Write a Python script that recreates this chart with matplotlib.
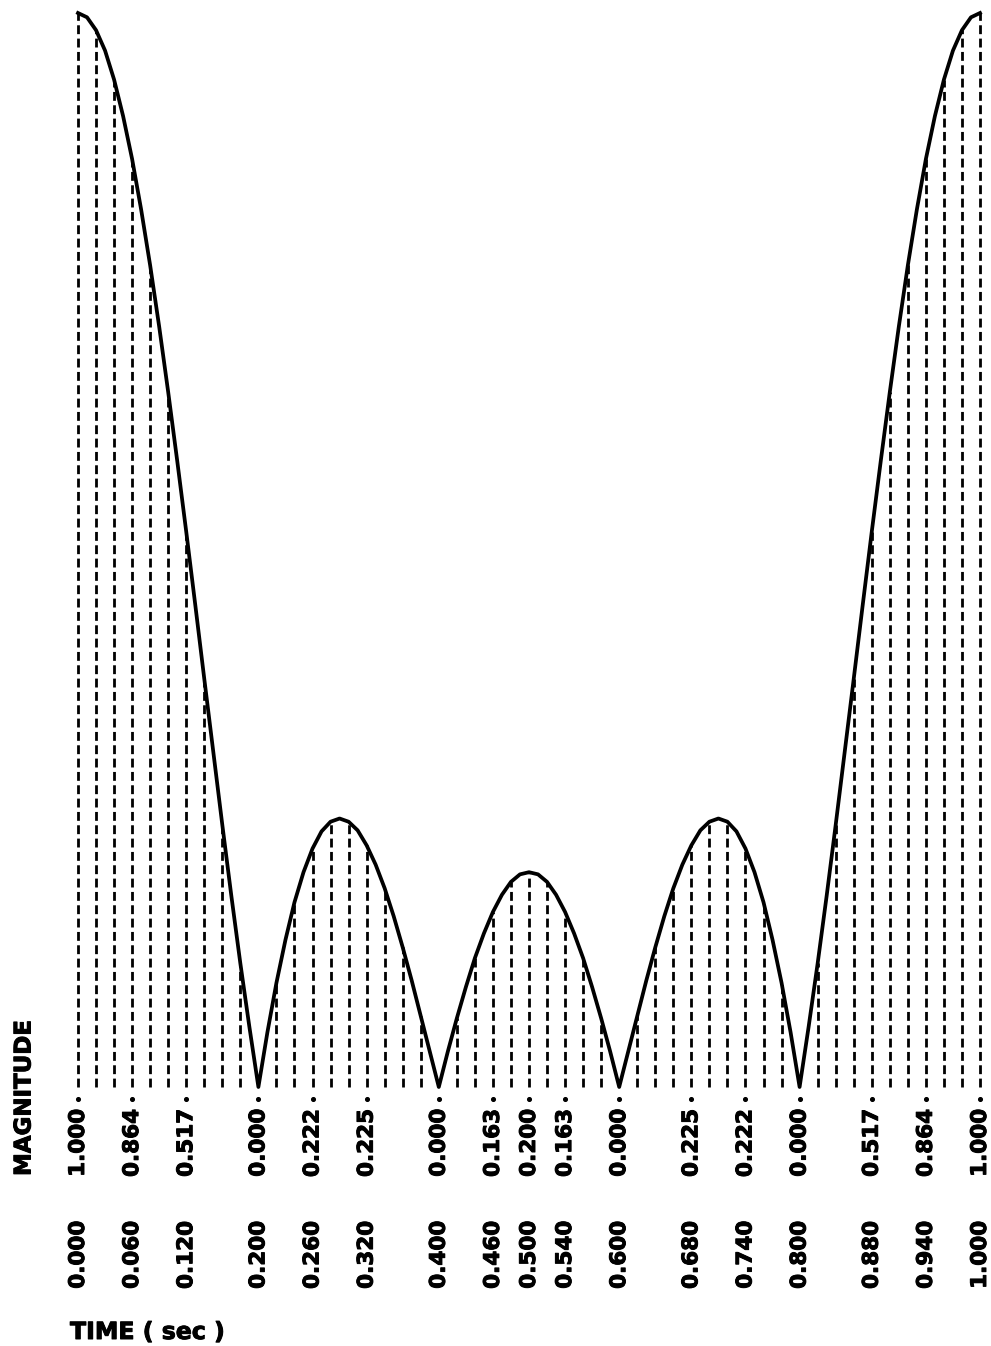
import numpy as np
import matplotlib
matplotlib.use("Agg")
import matplotlib.pyplot as plt
import matplotlib.patheffects as pe

# ---- data ----
curve_time = np.round(np.arange(101) * 0.01, 2)
curve_mag = [
    1.000, 0.996, 0.984, 0.965, 0.938, 0.904, 0.864, 0.817, 0.765, 0.708,
    0.647, 0.583, 0.517, 0.449, 0.380, 0.312, 0.244, 0.178, 0.115, 0.056,
    0.000, 0.051, 0.097, 0.137, 0.172, 0.200, 0.222, 0.238, 0.247, 0.250,
    0.247, 0.239, 0.225, 0.207, 0.185, 0.159, 0.130, 0.099, 0.066, 0.033,
    0.000, 0.033, 0.064, 0.093, 0.120, 0.143, 0.163, 0.179, 0.191, 0.198,
    0.200,
    0.198, 0.191, 0.179, 0.163, 0.143, 0.120, 0.093, 0.064, 0.033, 0.000,
    0.033, 0.066, 0.099, 0.130, 0.159, 0.185, 0.207, 0.225, 0.239, 0.247,
    0.250, 0.247, 0.238, 0.222, 0.200, 0.172, 0.137, 0.097, 0.051, 0.000,
    0.056, 0.115, 0.178, 0.244, 0.312, 0.380, 0.449, 0.517, 0.583, 0.647,
    0.708, 0.765, 0.817, 0.864, 0.904, 0.938, 0.965, 0.984, 0.996, 1.000,
]
# sampled every 0.02 s
sample_time = curve_time[::2]
sample_mag = curve_mag[::2]

label_times = [0.000, 0.060, 0.120, 0.200, 0.260, 0.320, 0.400, 0.460, 0.500,
               0.540, 0.600, 0.680, 0.740, 0.800, 0.880, 0.940, 1.000]
label_time_text = ["0.000", "0.060", "0.120", "0.200", "0.260", "0.320", "0.400",
                   "0.460", "0.500", "0.540", "0.600", "0.680", "0.740", "0.800",
                   "0.880", "0.940", "1.000"]
label_mag_text = ["1.000", "0.864", "0.517", "0.000", "0.222", "0.225", "0.000",
                  "0.163", "0.200", "0.163", "0.000", "0.225", "0.222", "0.000",
                  "0.517", "0.864", "1.000"]

# ---- figure ----
W, H = 991, 1346
fig = plt.figure(figsize=(W / 100, H / 100), dpi=100)
x0, x1 = 78, 980
y0, y1 = 1087, 13
ax = fig.add_axes([x0 / W, (H - y0) / H, (x1 - x0) / W, (y0 - y1) / H])
ax.set_xlim(0, 1)
ax.set_ylim(0, 1)
ax.axis("off")

heavy = [pe.withStroke(linewidth=0.7, foreground="black")]
font = dict(family=["DejaVu Sans"], weight="bold", path_effects=heavy)

for t, m in zip(sample_time, sample_mag):
    if m > 0:
        ax.plot([t, t], [0, m], color="black", lw=2.0,
                linestyle=(0, (3.2, 1.6)), clip_on=False,
                dash_capstyle="butt")

ax.plot(curve_time, curve_mag, color="black", lw=2.7, clip_on=False,
        solid_joinstyle="round")

tr = ax.get_xaxis_transform()
ax_h = (y0 - y1)
def ypix(p):
    return (y0 - p) / ax_h

ax.scatter(label_times, [ypix(1099)] * len(label_times), s=7, color="black",
           transform=tr, clip_on=False)

for t, s in zip(label_times, label_mag_text):
    ax.text(t, ypix(1109), s, rotation=90, ha="center", va="top",
            fontsize=15.5, transform=tr, **font)
for t, s in zip(label_times, label_time_text):
    ax.text(t, ypix(1221), s, rotation=90, ha="center", va="top",
            fontsize=15.5, transform=tr, **font)

fig.text(24 / W, 1 - 1176 / H, "MAGNITUDE", rotation=90, ha="center",
         va="bottom", fontsize=16.5, **font)
fig.text(70 / W, 1 - 1332 / H, "TIME ( sec )", ha="left", va="center",
         fontsize=17, **font)

fig.savefig("out.png", dpi=100, facecolor="white")
